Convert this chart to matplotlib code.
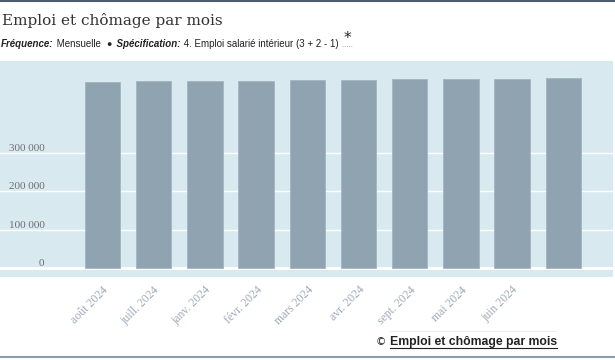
import matplotlib.pyplot as plt
from matplotlib.lines import Line2D

# data
mois = ["août 2024", "juill. 2024", "janv. 2024", "févr. 2024", "mars 2024",
        "avr. 2024", "sept. 2024", "mai 2024", "juin 2024", ""]
emplois = [484700, 485600, 486000, 487300, 489000,
           489800, 490700, 491000, 492400, 494200]
yticks = [0, 100000, 200000, 300000]
ytick_labels = ["0", "100 000", "200 000", "300 000"]

bg = "#d9e9f0"
bar_col = "#8fa4b0"

fig = plt.figure(figsize=(6.15, 3.6), dpi=100)
W, H = 615, 360

# plot area
ax = fig.add_axes([0, (H - 277) / H, 613 / W, (277 - 61) / H])
ax.set_facecolor(bg)
x = list(range(len(emplois)))
ax.bar(x, emplois, width=0.69, color=bar_col, edgecolor="#a3b5bf", linewidth=0.6, zorder=3)
ax.set_xlim(-2.0, 9.97)
ax.set_ylim(-22600, 538400)

ax.set_yticks(yticks)
ax.set_yticklabels(ytick_labels, fontfamily="Liberation Serif", fontsize=8, color="#6f6f6f")
ax.tick_params(axis="y", length=0, pad=-32)
for t in ax.get_yticklabels():
    t.set_va("bottom")
ax.grid(axis="y", color="white", linewidth=1, zorder=1)
ax.axhline(0, color="white", linewidth=2, zorder=2)

ax.set_xticks(x)
ax.set_xticklabels(mois, rotation=45, ha="right", rotation_mode="anchor",
                   fontfamily="Liberation Serif", fontsize=8.5, color="#9eabb8")
ax.tick_params(axis="x", length=0, pad=5)
for s in ax.spines.values():
    s.set_visible(False)

# title and subtitle
fig.text(2 / W, 1 - 21 / H, "Emploi et chômage par mois", fontfamily="DejaVu Serif",
         fontsize=11, color="#333333", va="center", ha="left")

renderer = fig.canvas.get_renderer()
parts = [("Fréquence:", "bold", "italic"), (" Mensuelle  ", "normal", "normal"),
         ("●", "normal", "normal"), ("  Spécification:", "bold", "italic"),
         (" 4. Emploi salarié intérieur (3 + 2 - 1)", "normal", "normal")]
xpos = 1
for txt, wgt, sty in parts:
    size = 6.5 if txt == "●" else 7
    t = fig.text(xpos / W, 1 - 44 / H, txt, fontfamily=["Liberation Sans", "DejaVu Sans"],
                 fontsize=size, fontweight=wgt, fontstyle=sty, color="#222222",
                 va="center", ha="left")
    bb = t.get_window_extent(renderer)
    xpos += bb.width
t = fig.text((xpos + 5) / W, 1 - 39 / H, "*", fontfamily="DejaVu Sans", fontsize=11,
             color="#222222", va="center", ha="left")
fig.add_artist(Line2D([(xpos + 4) / W, (xpos + 15) / W], [1 - 46 / H, 1 - 46 / H],
                      color="#999999", linewidth=0.6, linestyle=":"))

# borders
fig.add_artist(Line2D([0, 1], [1 - 1 / H, 1 - 1 / H], color="#4d5d6b", linewidth=1.5))
fig.add_artist(Line2D([0, 1], [1 - 357 / H, 1 - 357 / H], color="#8d9ba7", linewidth=1.5))

# footer
fig.add_artist(Line2D([390 / W, 556 / W], [1 - 331 / H, 1 - 331 / H], color="#eeeeee", linewidth=0.8))
fig.text(376 / W, 1 - 342 / H, "©", fontfamily="DejaVu Sans", fontsize=7.5,
         color="#222222", va="center", ha="left")
ft = fig.text(390 / W, 1 - 342 / H, "Emploi et chômage par mois", fontfamily="Liberation Sans",
              fontsize=8.8, fontweight="bold", color="#222222", va="center", ha="left")
bb = ft.get_window_extent(renderer)
fig.add_artist(Line2D([390 / W, (390 + bb.width) / W], [1 - 348 / H, 1 - 348 / H],
                      color="#222222", linewidth=0.8))

fig.savefig("out.png", dpi=100)
